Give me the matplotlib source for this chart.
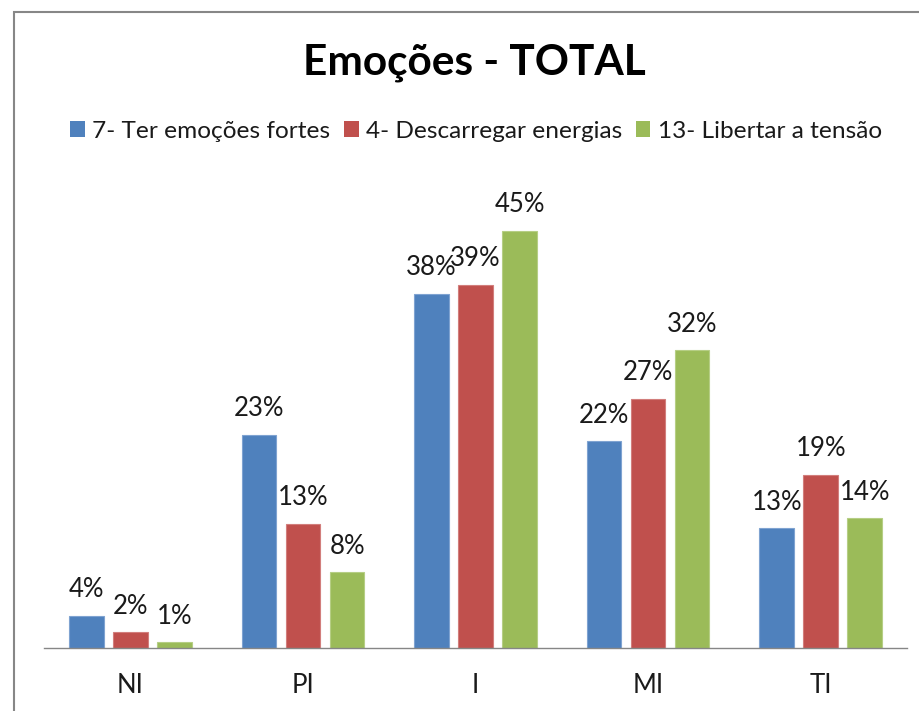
import matplotlib
matplotlib.use("Agg")
import matplotlib.pyplot as plt
import numpy as np
from matplotlib.patches import Rectangle, Patch

categories = ["NI", "PI", "I", "MI", "TI"]
series_names = ["7- Ter emoções fortes", "4- Descarregar energias", "13- Libertar a tensão"]
blue_vals = [3.5, 23.0, 38.2, 22.3, 12.9]
red_vals = [1.7, 13.4, 39.2, 26.9, 18.7]
green_vals = [0.6, 8.2, 45.0, 32.1, 14.0]
blue_labels = ["4%", "23%", "38%", "22%", "13%"]
red_labels = ["2%", "13%", "39%", "27%", "19%"]
green_labels = ["1%", "8%", "45%", "32%", "14%"]
title = "Emoções - TOTAL"

colors = ["#4F81BD", "#C0504D", "#9BBB59"]
edges = ["#7FA3D1", "#D27E7C", "#B6CE85"]

FONT = "Lato"
plt.rcParams["font.family"] = [FONT, "DejaVu Sans"]

W, H = 919, 711
fig = plt.figure(figsize=(W / 100, H / 100), dpi=100)
fig.patch.set_facecolor("white")

left_px, right_px = 44.25, 907
base_px, top_px = 648, 648 - 50 * 9.27
ax = fig.add_axes([left_px / W, (H - base_px) / H, (right_px - left_px) / W, (base_px - top_px) / H])

x = np.arange(len(categories))
width = 0.2
step = 0.255
all_vals = [blue_vals, red_vals, green_vals]
all_labels = [blue_labels, red_labels, green_labels]
txtcol = "#1a1a1a"
FS = 18.5
for i, (vals, labs) in enumerate(zip(all_vals, all_labels)):
    pos = x + (i - 1) * step
    bars = ax.bar(pos, vals, width, color=colors[i], edgecolor=edges[i], linewidth=0.8,
                  label=series_names[i], zorder=2)
    for b, lab in zip(bars, labs):
        ax.annotate(lab, (b.get_x() + b.get_width() / 2, b.get_height()),
                    xytext=(0, 13.3), textcoords="offset points", ha="center", va="baseline",
                    fontsize=FS, color=txtcol)

ax.set_xlim(-0.5, len(categories) - 0.5)
ax.set_ylim(0, 50)
ax.set_xticks(x)
ax.set_xticklabels(categories, fontsize=FS, color=txtcol)
ax.tick_params(axis="x", length=0, pad=18)
ax.set_yticks([])
for s in ["top", "right", "left"]:
    ax.spines[s].set_visible(False)
ax.spines["bottom"].set_color("#868686")
ax.spines["bottom"].set_linewidth(1.0)
ax.spines["bottom"].set_zorder(3)

fig.text(474 / W, 1 - 74 / H, title, ha="center", va="baseline", fontsize=30.5,
         fontweight="bold", color="black")

LFS = 17.6
handles = [Patch(facecolor=c, edgecolor="none") for c in colors]
leg = fig.legend(handles, series_names, loc="center", bbox_to_anchor=(476 / W, 1 - 131 / H),
                 ncol=3, frameon=False, fontsize=LFS, handlelength=0.6, handleheight=0.6,
                 handletextpad=0.3, columnspacing=0.55, borderaxespad=0, borderpad=0)
for t in leg.get_texts():
    t.set_color(txtcol)

# outer chart frame
fig.patches.append(Rectangle((14 / W, -0.1), 1.2, 1 - 12 / H + 0.1, transform=fig.transFigure,
                             fill=False, edgecolor="#878787", linewidth=1.5, clip_on=False))

fig.savefig("out.png", dpi=100)
